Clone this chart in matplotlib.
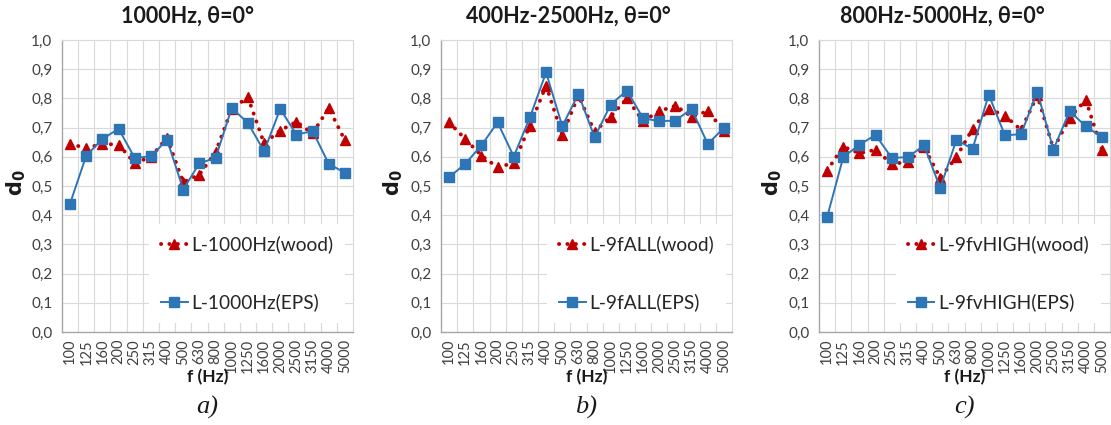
import matplotlib
matplotlib.use("Agg")
import matplotlib.pyplot as plt
import numpy as np
from matplotlib.ticker import FixedLocator, FuncFormatter

plt.rcParams['font.family'] = ['Lato', 'DejaVu Sans']

freqs = ["100", "125", "160", "200", "250", "315", "400", "500", "630", "800",
         "1000", "1250", "1600", "2000", "2500", "3150", "4000", "5000"]

titles = ["1000Hz, θ=0°", "400Hz-2500Hz, θ=0°", "800Hz-5000Hz, θ=0°"]
captions = ["a)", "b)", "c)"]
wood_labels = ["L-1000Hz(wood)", "L-9fALL(wood)", "L-9fvHIGH(wood)"]
eps_labels = ["L-1000Hz(EPS)", "L-9fALL(EPS)", "L-9fvHIGH(EPS)"]

wood_a = [0.644, 0.630, 0.644, 0.642, 0.578, 0.600, 0.665, 0.513, 0.539, 0.616,
          0.764, 0.804, 0.646, 0.690, 0.720, 0.680, 0.767, 0.656]
eps_a = [0.440, 0.604, 0.661, 0.696, 0.596, 0.602, 0.658, 0.488, 0.578, 0.596,
         0.767, 0.716, 0.619, 0.764, 0.676, 0.688, 0.576, 0.545]

wood_b = [0.718, 0.661, 0.604, 0.564, 0.579, 0.707, 0.844, 0.675, 0.810, 0.686,
          0.738, 0.800, 0.722, 0.756, 0.775, 0.738, 0.756, 0.690]
eps_b = [0.530, 0.576, 0.639, 0.718, 0.601, 0.735, 0.889, 0.705, 0.815, 0.667,
         0.779, 0.827, 0.732, 0.722, 0.724, 0.764, 0.644, 0.699]

wood_c = [0.553, 0.635, 0.612, 0.624, 0.576, 0.582, 0.633, 0.528, 0.599, 0.696,
          0.764, 0.741, 0.692, 0.810, 0.627, 0.733, 0.795, 0.624]
eps_c = [0.393, 0.599, 0.641, 0.675, 0.596, 0.599, 0.639, 0.493, 0.658, 0.627,
         0.813, 0.673, 0.678, 0.823, 0.625, 0.756, 0.705, 0.667]

wood = [wood_a, wood_b, wood_c]
eps = [eps_a, eps_b, eps_c]

W, H = 1111, 425
fig = plt.figure(figsize=(W / 100, H / 100), dpi=100)

ax_lefts = [62, 441, 819]
ax_w = 291
ax_top, ax_bot = 40, 332
title_x = [188, 568, 942]
ylabel_x = [16, 393, 772]
leg_x = [0.30, 0.365, 0.265]

red = "#c00000"
blue = "#2e75b6"
grid_c = "#d9d9d9"

for i in range(3):
    ax = fig.add_axes([ax_lefts[i] / W, (H - ax_bot) / H, ax_w / W, (ax_bot - ax_top) / H])
    x = np.arange(len(freqs))
    ax.plot(x, wood[i], color=red, linestyle=(0, (0.05, 2.1)), linewidth=2.8,
            dash_capstyle='round', marker='^', markersize=7.5, markerfacecolor=red,
            markeredgecolor=red, label=wood_labels[i], zorder=3)
    ax.plot(x, eps[i], color=blue, linestyle='-', linewidth=1.4,
            marker='s', markersize=6.8, markerfacecolor=blue,
            markeredgecolor=blue, label=eps_labels[i], zorder=4)
    ax.set_xlim(-0.5, len(freqs) - 0.5)
    ax.set_ylim(0, 1.0)
    ax.set_xticks(x)
    ax.set_xticklabels(freqs, rotation=90, fontsize=10.5, color="#404040")
    ax.xaxis.set_minor_locator(FixedLocator(np.arange(0.5, len(freqs) - 0.5, 1.0)))
    ax.set_yticks(np.arange(0, 1.01, 0.1))
    ax.yaxis.set_major_formatter(FuncFormatter(lambda v, p: f"{v:.1f}".replace('.', ',')))
    ax.tick_params(axis='y', labelsize=11, length=0, pad=7, colors="#404040")
    ax.tick_params(axis='x', which='both', length=0, pad=5)
    ax.grid(axis='y', which='major', color=grid_c, linewidth=0.8)
    ax.grid(axis='x', which='minor', color=grid_c, linewidth=0.8)
    ax.set_axisbelow(True)
    for s in ['top', 'right']:
        ax.spines[s].set_color(grid_c)
        ax.spines[s].set_linewidth(0.8)
    for s in ['left', 'bottom']:
        ax.spines[s].set_color("#a6a6a6")
        ax.spines[s].set_linewidth(1.0)
    leg = ax.legend(loc='center left', bbox_to_anchor=(leg_x[i], 0.2),
                    fontsize=13.8, handlelength=1.4, handletextpad=0.2,
                    labelspacing=2.1, frameon=True, facecolor='white',
                    edgecolor='none', framealpha=1.0, borderpad=0.6,
                    borderaxespad=0)
    for t in leg.get_texts():
        t.set_color("#262626")
    leg.set_zorder(2)

    fig.text(title_x[i] / W, 1 - 16 / H, titles[i], ha='center', va='center',
             fontsize=15.5, fontweight='bold', color="#1a1a1a")
    fig.text(ylabel_x[i] / W, 1 - 183 / H, r"$\mathbf{d_0}$", rotation=90,
             ha='center', va='center', fontsize=15, color="#1a1a1a")
    cx = (ax_lefts[i] + ax_w / 2) / W
    fig.text(cx, 1 - 377 / H, "f (Hz)", ha='center', va='center',
             fontsize=12.5, fontweight='bold', color="#1a1a1a")
    fig.text(cx, 1 - 407 / H, captions[i], ha='center', va='center',
             fontsize=19, style='italic', family='Liberation Serif', color="#1a1a1a")

fig.savefig("out.png", dpi=100, facecolor='white')
